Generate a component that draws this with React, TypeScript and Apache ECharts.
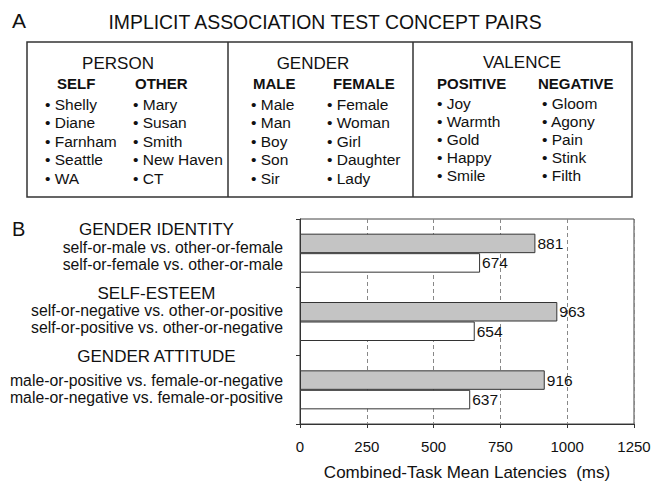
import React, { useEffect, useRef } from 'react';
import * as echarts from 'echarts';

const FONT = '"Liberation Sans", Arial, Helvetica, sans-serif';

// ---- Panel A data ----
const panelTitle = 'IMPLICIT ASSOCIATION TEST CONCEPT PAIRS';
const conceptGroups = ['PERSON', 'GENDER', 'VALENCE'];
const conceptColumns = ['SELF', 'OTHER', 'MALE', 'FEMALE', 'POSITIVE', 'NEGATIVE'];
const selfWords = ['Shelly', 'Diane', 'Farnham', 'Seattle', 'WA'];
const otherWords = ['Mary', 'Susan', 'Smith', 'New Haven', 'CT'];
const maleWords = ['Male', 'Man', 'Boy', 'Son', 'Sir'];
const femaleWords = ['Female', 'Woman', 'Girl', 'Daughter', 'Lady'];
const positiveWords = ['Joy', 'Warmth', 'Gold', 'Happy', 'Smile'];
const negativeWords = ['Gloom', 'Agony', 'Pain', 'Stink', 'Filth'];

// ---- Panel B data ----
const testNames = ['GENDER IDENTITY', 'SELF-ESTEEM', 'GENDER ATTITUDE'];
const firstConditions = [
  'self-or-male vs. other-or-female',
  'self-or-negative vs. other-or-positive',
  'male-or-positive vs. female-or-negative',
];
const secondConditions = [
  'self-or-female vs. other-or-male',
  'self-or-positive vs. other-or-negative',
  'male-or-negative vs. female-or-positive',
];
const firstLatencies = [881, 963, 916];
const secondLatencies = [674, 654, 637];
const xMin = 0;
const xMax = 1250;
const xStep = 250;
const xAxisTitle = 'Combined-Task Mean Latencies  (ms)';

export default function App() {
  const ref = useRef<HTMLDivElement>(null);

  useEffect(() => {
    document.body.style.margin = '0';
    const chart = echarts.init(ref.current!, null, { renderer: 'svg' });

    const txt = (text: string, x: number, y: number, size: number, align = 'left', weight = 'normal') => ({
      type: 'text',
      x,
      y,
      silent: true,
      style: {
        text,
        fill: '#111',
        font: `${weight} ${size}px ${FONT}`,
        align,
        verticalAlign: 'middle',
        textAlign: align,
        textVerticalAlign: 'middle',
      },
    });

    const graphics: any[] = [];
    graphics.push(txt('A', 12, 20, 21));
    graphics.push(txt('B', 12, 229, 20));
    graphics.push(txt(panelTitle, 325, 22, 19.4, 'center'));
    graphics.push({
      type: 'rect',
      shape: { x: 27, y: 42, width: 605, height: 155 },
      style: { fill: 'none', stroke: '#333', lineWidth: 1.5 },
      silent: true,
    });
    [228, 413].forEach((x) =>
      graphics.push({
        type: 'line',
        shape: { x1: x, y1: 42, x2: x, y2: 197 },
        style: { stroke: '#333', lineWidth: 1.5 },
        silent: true,
      })
    );
    const groupPos = [
      [118, 63],
      [313, 63],
      [522, 62],
    ];
    conceptGroups.forEach((g, i) => graphics.push(txt(g, groupPos[i][0], groupPos[i][1], 17, 'center')));
    const colHeadX = [57, 135, 253, 333, 437, 538];
    conceptColumns.forEach((c, i) => graphics.push(txt(c, colHeadX[i], 83, 15, 'left', 'bold')));
    const wordLists = [selfWords, otherWords, maleWords, femaleWords, positiveWords, negativeWords];
    const wordX = [45, 133, 251, 327, 437, 542];
    wordLists.forEach((list, ci) => {
      const y0 = ci < 4 ? 104 : 103;
      const dy = ci < 4 ? 18.5 : 18.2;
      list.forEach((w, ri) => graphics.push(txt('\u2022 ' + w, wordX[ci], y0 + ri * dy, 15.5)));
    });

    chart.setOption({
      animation: false,
      textStyle: { fontFamily: FONT },
      graphic: { elements: graphics },
      grid: {
        left: 300,
        top: 219,
        width: 334,
        height: 205,
        show: true,
        borderColor: '#444',
        borderWidth: 1,
        containLabel: false,
        outerBoundsMode: 'none',
      },
      xAxis: {
        type: 'value',
        min: xMin,
        max: xMax,
        interval: xStep,
        axisLine: { show: true, lineStyle: { color: '#333', width: 1 } },
        axisTick: { show: true, length: 4, lineStyle: { color: '#333' } },
        axisLabel: {
          color: '#111',
          fontSize: 15,
          margin: 15,
          fontFamily: FONT,
          formatter: (v: number) => String(v),
        },
        splitLine: { show: true, lineStyle: { color: '#888', type: [4, 3], width: 1 } },
        name: xAxisTitle,
        nameLocation: 'middle',
        nameGap: 40,
        nameTextStyle: { color: '#111', fontSize: 17, fontFamily: FONT },
      },
      yAxis: {
        type: 'category',
        inverse: true,
        data: testNames,
        axisLine: { show: true, lineStyle: { color: '#333', width: 1 } },
        axisTick: { show: true, length: 4, alignWithLabel: false, lineStyle: { color: '#333' } },
        splitLine: { show: false },
        axisLabel: {
          interval: 0,
          margin: 17,
          color: '#111',
          fontFamily: FONT,
          formatter: (v: string, i: number) =>
            `{h${i}|${v}}\n{l|${firstConditions[i]}}\n{l|${secondConditions[i]}}\n{s${i}| }`,
          rich: {
            h0: { fontSize: 17, lineHeight: 19, align: 'center', padding: [0, 0, 0, 42], color: '#111', fontFamily: FONT },
            h1: { fontSize: 17, lineHeight: 17, align: 'center', padding: [0, 0, 0, 42], color: '#111', fontFamily: FONT },
            h2: { fontSize: 17, lineHeight: 31, align: 'center', padding: [0, 0, 0, 42], color: '#111', fontFamily: FONT },
            l: { fontSize: 15.8, lineHeight: 17, align: 'right', width: 295, color: '#111', fontFamily: FONT },
            s0: { fontSize: 1, lineHeight: 13 },
            s1: { fontSize: 1, lineHeight: 23 },
            s2: { fontSize: 1, lineHeight: 32 },
          },
        },
      },
      series: [
        {
          type: 'bar',
          data: firstLatencies,
          barWidth: 19.5,
          barGap: '0%',
          itemStyle: { color: '#c4c4c4', borderColor: '#333', borderWidth: 1 },
          label: { show: true, position: 'right', distance: 2, color: '#111', fontSize: 15.5, fontFamily: FONT },
        },
        {
          type: 'bar',
          data: secondLatencies,
          barWidth: 19.5,
          barGap: '0%',
          itemStyle: { color: '#ffffff', borderColor: '#333', borderWidth: 1 },
          label: { show: true, position: 'right', distance: 2, color: '#111', fontSize: 15.5, fontFamily: FONT },
        },
      ],
    });

    return () => chart.dispose();
  }, []);

  return <div ref={ref} style={{ position: 'absolute', left: 0, top: 0, width: 653, height: 486 }} />;
}
